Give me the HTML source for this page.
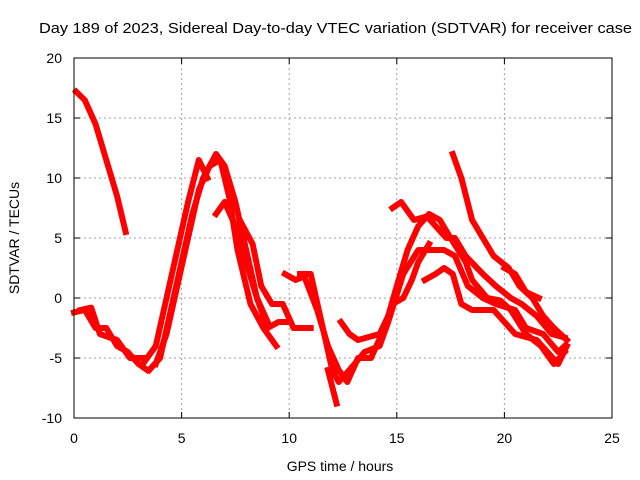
<!DOCTYPE html>
<html><head><meta charset="utf-8">
<style>
html,body{margin:0;padding:0;background:#fff;}
svg{display:block;font-family:"Liberation Sans",sans-serif;}
</style></head>
<body>
<svg id="chart" width="640" height="480" viewBox="0 0 640 480">
<text x="39" y="33" textLength="593" lengthAdjust="spacingAndGlyphs" font-size="15">Day 189 of 2023, Sidereal Day-to-day VTEC variation (SDTVAR) for receiver case</text>
<text x="340" y="471" text-anchor="middle" font-size="14">GPS time / hours</text>
<text transform="translate(19,238) rotate(-90)" text-anchor="middle" font-size="14">SDTVAR / TECUs</text>
<g id="grid"></g>
<g id="series"></g>
<rect x="74" y="58" width="538" height="360" fill="none" stroke="#000" stroke-width="1"/>
<g id="axes"></g>
</svg>
<script>
const xTicks=[0,5,10,15,20,25];
const yTicks=[-10,-5,0,5,10,15,20];
const trackA=[[0.1,17.2],[0.5,16.5],[1,14.5],[1.5,11.5],[2,8.5],[2.4,5.5]];
const trackB=[[0,-1.2],[0.5,-1],[1,-2.5],[1.5,-2.5],[2,-4],[2.5,-4.5],[3,-5.5],[3.4,-6]];
const trackC=[[0.3,-1],[0.8,-0.8],[1.2,-3],[2,-3.5],[2.6,-5],[3.3,-5]];
const trackD=[[3.2,-5.5],[3.8,-4],[4.3,0],[4.8,4],[5.3,8],[5.8,11.5],[6.2,10]];
const trackE=[[3.5,-6],[4,-5],[4.5,-1],[5,3],[5.5,7],[6,10],[6.6,12],[7,11],[7.5,8],[8,4],[8.5,0],[9,-2]];
const trackF=[[3.8,-5.5],[4.3,-3],[4.8,1],[5.3,5],[5.8,9],[6.3,11],[6.8,11.5],[7.2,8.5],[7.6,4],[8.2,-0.5],[8.8,-2.5],[9.4,-4]];
const trackG=[[6.6,7],[7,8],[7.5,6],[8,3],[8.5,0],[9,-2.5],[9.5,-2],[10,-2]];
const trackH=[[7.7,6.5],[8.3,4.5],[8.7,1],[9.2,-0.5],[9.7,-0.5],[10.2,-2.5],[11,-2.5]];
const trackI=[[9.8,2],[10.3,1.5],[10.7,1.8],[11.3,-1],[11.8,-4],[12.3,-6],[12.7,-7],[13.2,-5],[13.8,-5],[14.3,-3],[15,0.5]];
const trackJ=[[10.5,2],[11,2],[11.5,-2],[12,-6],[12.3,-7],[12.8,-6],[13.5,-4.5],[14.2,-4],[14.6,-2],[15.3,2],[16,4],[16.5,4],[17.2,4],[17.7,3.5],[18.3,1],[19,0],[19.6,-0.5],[20.5,-1],[21,-2.5],[21.8,-3],[22.5,-4.5],[22.8,-4]];
const trackK=[[11.8,-6],[12.2,-8.8]];
const trackL=[[12.4,-2],[12.8,-3],[13.2,-3.5],[14.2,-3],[14.6,-1.5],[15,1],[15.5,4],[16,6],[16.5,7],[17,6.5],[17.5,5],[18.2,3],[18.5,1.5],[19.2,0],[19.8,-0.2],[20.3,-1],[21,-3],[21.7,-4],[22.3,-5.5],[22.8,-4.5]];
const trackM=[[14.8,7.5],[15.2,8],[15.8,6.5],[16.4,6.8],[16.8,6],[17.3,5],[17.7,5],[18.2,3.5],[19,2],[19.6,1],[20.3,0],[20.8,-0.5],[21.5,-1.5],[22.2,-3],[22.8,-3.3]];
const trackN=[[17.6,12],[18,10],[18.5,6.5],[19,5],[19.5,3.5],[20.2,2.5],[20.7,1],[21.3,0],[21.8,-1.5],[22.3,-2.5],[22.9,-3.5]];
const trackO=[[16.3,1.5],[16.8,2],[17.2,2.5],[17.6,2],[18,-0.5],[18.5,-1],[19.5,-1],[20,-2],[20.5,-3],[21.5,-3.5],[22.5,-5.5],[22.9,-4]];
const trackP=[[14.8,-0.5],[15.3,0],[15.7,1.5],[16,3],[16.5,4.5]];
const trackQ=[[20,2.5],[20.5,2],[21,0.5],[21.6,0]];
const tracks=[trackA,trackB,trackC,trackD,trackE,trackF,trackG,trackH,trackI,trackJ,trackK,trackL,trackM,trackN,trackO,trackP,trackQ];

const X0=74,X1=612,Y0=418,Y1=58;
function xs(v){return X0+(v-0)/(25-0)*(X1-X0);}
function ys(v){return Y0-(v+10)/(30)*(Y0-Y1);}
const NS="http://www.w3.org/2000/svg";
const grid=document.getElementById('grid'),axes=document.getElementById('axes'),ser=document.getElementById('series');
xTicks.forEach(t=>{
  const x=xs(t);
  if(t>0&&t<25){
    const l=document.createElementNS(NS,'line');
    l.setAttribute('x1',x);l.setAttribute('x2',x);l.setAttribute('y1',Y1);l.setAttribute('y2',Y0);
    l.setAttribute('stroke','#a0a0a0');l.setAttribute('stroke-dasharray','2,3');
    
    
    grid.appendChild(l);
  }
  const tk=document.createElementNS(NS,'path');
  tk.setAttribute('d',`M${x},${Y0}v-6M${x},${Y1}v6`);tk.setAttribute('stroke','#000');
  
  
  axes.appendChild(tk);
  const tx=document.createElementNS(NS,'text');
  tx.setAttribute('x',x);tx.setAttribute('y',443);tx.setAttribute('text-anchor','middle');tx.setAttribute('font-size','14');
  tx.textContent=t;
  
  
  axes.appendChild(tx);
});
yTicks.forEach(t=>{
  const y=ys(t);
  if(t>-10&&t<20){
    const l=document.createElementNS(NS,'line');
    l.setAttribute('x1',X0);l.setAttribute('x2',X1);l.setAttribute('y1',y);l.setAttribute('y2',y);
    l.setAttribute('stroke','#a0a0a0');l.setAttribute('stroke-dasharray','2,3');
    
    
    grid.appendChild(l);
  }
  const tk=document.createElementNS(NS,'path');
  tk.setAttribute('d',`M${X0},${y}h6M${X1},${y}h-6`);tk.setAttribute('stroke','#000');
  
  
  axes.appendChild(tk);
  const tx=document.createElementNS(NS,'text');
  tx.setAttribute('x',62);tx.setAttribute('y',y+5);tx.setAttribute('text-anchor','end');tx.setAttribute('font-size','14');
  tx.textContent=t;
  
  
  axes.appendChild(tx);
});
tracks.forEach(tr=>{
  const p=document.createElementNS(NS,'polyline');
  p.setAttribute('points',tr.map(d=>xs(d[0])+','+ys(d[1])).join(' '));
  p.setAttribute('fill','none');p.setAttribute('stroke','#ff0000');p.setAttribute('stroke-width','6');
  p.setAttribute('stroke-linejoin','round');p.setAttribute('stroke-linecap','square');
  
  
  ser.appendChild(p);
});
</script>
</body></html>
